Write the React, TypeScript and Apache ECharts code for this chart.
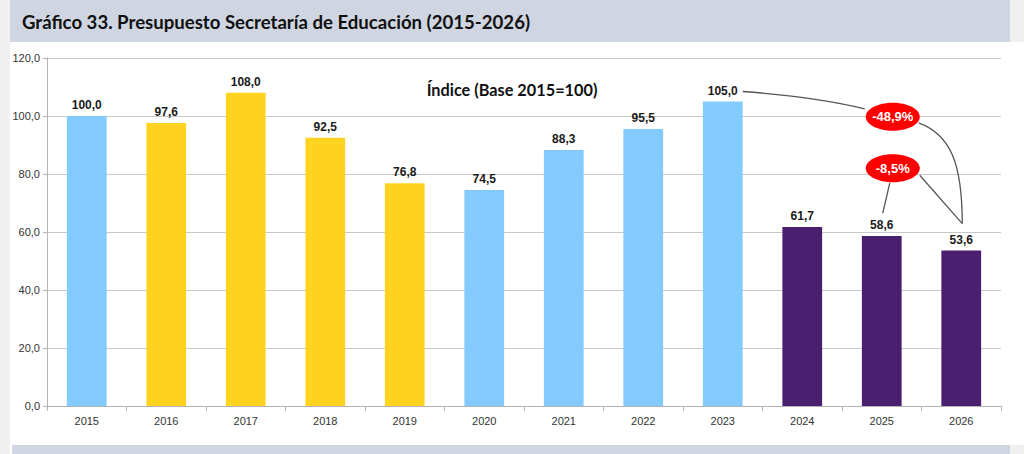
import React, { useEffect, useRef } from "react";
import * as echarts from "echarts";

const categories = ["2015", "2016", "2017", "2018", "2019", "2020", "2021", "2022", "2023", "2024", "2025", "2026"];
const values = [100.0, 97.6, 108.0, 92.5, 76.8, 74.5, 88.3, 95.5, 105.0, 61.7, 58.6, 53.6];
const periods = ["blue", "yellow", "yellow", "yellow", "yellow", "blue", "blue", "blue", "blue", "purple", "purple", "purple"];
const periodColors: Record<string, string> = { blue: "#83caff", yellow: "#ffd320", purple: "#4b1f6f" };
const yMin = 0;
const yMax = 120;
const yInterval = 20;
const titleText = "Gráfico 33. Presupuesto Secretaría de Educación (2015-2026)";
const subtitleText = "Índice (Base 2015=100)";
const changeLabels = ["-48,9%", "-8,5%"];
const changeValues = [99.7, 82];

const fmt = (v: number) => v.toFixed(1).replace(".", ",");

export default function App() {
  const ref = useRef<HTMLDivElement>(null);
  useEffect(() => {
    const chart = echarts.init(ref.current!, null, { renderer: "svg" });
    chart.setOption({
      animation: false,
      backgroundColor: "#ffffff",
      grid: { left: 47, right: 23, top: 58, bottom: 48 },
      xAxis: {
        type: "category",
        data: categories,
        axisLine: { lineStyle: { color: "#b3b3b3" } },
        axisTick: { show: true, length: 5, lineStyle: { color: "#b3b3b3" } },
        axisLabel: { color: "#333", fontSize: 11, fontFamily: "Liberation Sans", margin: 9 },
      },
      yAxis: {
        type: "value",
        min: yMin,
        max: yMax,
        interval: yInterval,
        axisLine: { show: true, lineStyle: { color: "#b3b3b3" } },
        axisTick: { show: true, length: 4, lineStyle: { color: "#b3b3b3" } },
        splitLine: { lineStyle: { color: "#c8c8c8" } },
        axisLabel: { color: "#333", fontSize: 11, fontFamily: "Liberation Sans", margin: 7, formatter: (v: number) => fmt(v) },
      },
      series: [
        {
          type: "bar",
          barWidth: "50%",
          data: values.map((v, i) => ({ value: v, itemStyle: { color: periodColors[periods[i]] } })),
          label: {
            show: true,
            position: "top",
            distance: 5,
            color: "#1a1a1a",
            fontSize: 12,
            fontWeight: "bold",
            fontFamily: "Liberation Sans",
            formatter: (p: any) => fmt(p.value),
          },
        },
      ],
    });

    const px = (i: number, v: number) => chart.convertToPixel({ gridIndex: 0 }, [i, v]) as number[];
    const p2023 = px(8, values[8]);
    const p2025 = px(10, values[10]);
    const p2026 = px(11, values[11]);
    const topRight = px(11.5, yMax);
    const bottomRight = px(11.5, yMin);
    const e1 = px(10, changeValues[0]);
    const e2 = px(10, changeValues[1]);
    e1[0] += 11;
    e2[0] += 11;
    const lineStyle = { stroke: "#555555", lineWidth: 1.3, fill: null };
    const end26 = [p2026[0] + 1, p2026[1] - 27];

    chart.setOption({
      graphic: [
        { type: "rect", shape: { x: 0, y: 0, width: 10, height: 454 }, style: { fill: "#f0f0f0" }, silent: true },
        { type: "rect", shape: { x: 1010, y: 0, width: 14, height: 42 }, style: { fill: "#f0f0f0" }, silent: true },
        { type: "rect", shape: { x: 10, y: 0, width: 1000, height: 42 }, style: { fill: "#cfd5e1" }, silent: true },
        { type: "rect", shape: { x: 1010, y: 445, width: 14, height: 9 }, style: { fill: "#f0f0f0" }, silent: true },
        { type: "rect", shape: { x: 12, y: 445, width: 998, height: 9 }, style: { fill: "#cfd5e1" }, silent: true },
        {
          type: "line",
          shape: { x1: Math.round(bottomRight[0]) + 0.5, y1: topRight[1], x2: Math.round(bottomRight[0]) + 0.5, y2: bottomRight[1] },
          style: { stroke: "#c8c8c8", lineWidth: 1 },
          silent: true,
        },
        {
          type: "text",
          x: 22,
          y: 22,
          style: { text: titleText, fill: "#111", font: "bold 18.6px Lato", textVerticalAlign: "middle" },
          silent: true,
        },
        {
          type: "text",
          x: 512,
          y: 89,
          style: { text: subtitleText, fill: "#111", font: "bold 16.3px Lato", textAlign: "center", textVerticalAlign: "middle" },
          silent: true,
        },
        {
          type: "bezierCurve",
          shape: {
            x1: p2023[0] + 20, y1: p2023[1] - 10,
            cpx1: p2023[0] + 75, cpy1: p2023[1] - 6,
            cpx2: e1[0] - 60, cpy2: e1[1] - 16,
            x2: e1[0] - 28, y2: e1[1] - 8,
          },
          style: lineStyle,
          z: 10,
        },
        {
          type: "bezierCurve",
          shape: {
            x1: e1[0] + 26, y1: e1[1] + 6,
            cpx1: e1[0] + 58, cpy1: e1[1] + 18,
            cpx2: end26[0], cpy2: end26[1] - 60,
            x2: end26[0], y2: end26[1],
          },
          style: lineStyle,
          z: 10,
        },
        {
          type: "line",
          shape: { x1: e2[0] - 3, y1: e2[1] + 15, x2: p2025[0] + 1, y2: p2025[1] - 23 },
          style: lineStyle,
          z: 10,
        },
        {
          type: "line",
          shape: { x1: e2[0] + 27, y1: e2[1] + 7, x2: end26[0], y2: end26[1] },
          style: lineStyle,
          z: 10,
        },
        { type: "ellipse", shape: { cx: e1[0], cy: e1[1], rx: 27, ry: 14 }, style: { fill: "#ff0000" }, z: 11 },
        { type: "ellipse", shape: { cx: e2[0], cy: e2[1], rx: 27, ry: 14 }, style: { fill: "#ff0000" }, z: 11 },
        {
          type: "text", x: e1[0], y: e1[1], z: 12,
          style: { text: changeLabels[0], fill: "#ffffff", font: "bold 13px Liberation Sans", textAlign: "center", textVerticalAlign: "middle" },
        },
        {
          type: "text", x: e2[0], y: e2[1], z: 12,
          style: { text: changeLabels[1], fill: "#ffffff", font: "bold 13px Liberation Sans", textAlign: "center", textVerticalAlign: "middle" },
        },
      ],
    });
    return () => chart.dispose();
  }, []);
  return <div ref={ref} style={{ position: "absolute", left: 0, top: 0, width: 1024, height: 454 }} />;
}
